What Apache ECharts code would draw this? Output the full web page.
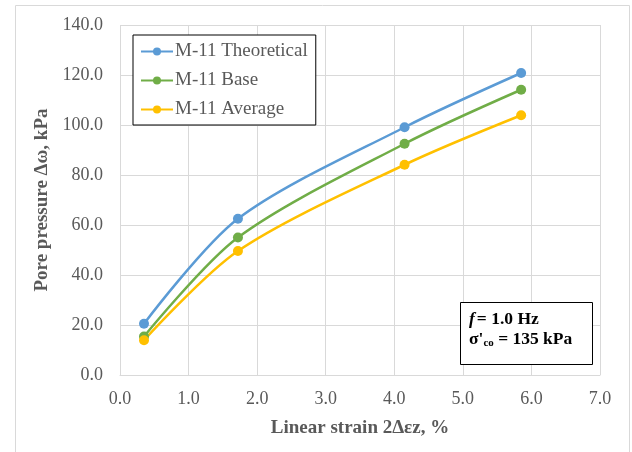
<!DOCTYPE html>
<html>
<head>
<meta charset="utf-8">
<script src="https://cdn.jsdelivr.net/npm/echarts@6/dist/echarts.min.js"></script>
<style>
  html, body { margin: 0; padding: 0; background: #fff; }
  #chart { width: 632px; height: 452px; }
</style>
</head>
<body>
<div id="chart"></div>
<script>
// strain values (%) shared by all series
const strain = [0.35, 1.72, 4.15, 5.85]
const theoretical = [20.5, 62.5, 99.1, 120.8]
const base = [15.4, 55.0, 92.5, 114.1]
const average = [13.9, 49.6, 84.1, 103.9]

const seriesNames = ['M-11 Theoretical', 'M-11 Base', 'M-11 Average']
const seriesColors = ['#5b9bd5', '#70ad47', '#ffc000']
const seriesData = [theoretical, base, average]

const font = 'Liberation Serif, Times New Roman, serif'

const chart = echarts.init(document.getElementById('chart'))

const option = {
  animation: false,
  grid: { left: 120, right: 32, top: 25, bottom: 77 },
  legend: {
    left: 133,
    top: 35,
    orient: 'vertical',
    itemWidth: 32,
    itemHeight: 10,
    itemGap: 10,
    padding: [7, 8, 6, 7],
    borderColor: '#000',
    borderWidth: 1,
    backgroundColor: '#fff',
    data: seriesNames,
    textStyle: { fontFamily: font, fontSize: 19, color: '#595959', padding: [0, 0, 0, -3] }
  },
  xAxis: {
    type: 'value',
    min: 0,
    max: 7,
    interval: 1,
    name: 'Linear strain 2Δεz, %',
    nameLocation: 'middle',
    nameGap: 44,
    nameTextStyle: { fontFamily: font, fontSize: 19, fontWeight: 'bold', color: '#595959' },
    axisLine: { show: true, lineStyle: { color: '#d9d9d9' } },
    axisTick: { show: false },
    axisLabel: {
      fontFamily: font, fontSize: 18, color: '#595959', margin: 15,
      formatter: v => v.toFixed(1)
    },
    splitLine: { lineStyle: { color: '#d9d9d9' } }
  },
  yAxis: {
    type: 'value',
    min: 0,
    max: 140,
    interval: 20,
    name: 'Pore pressure Δω, kPa',
    nameLocation: 'middle',
    nameGap: 63,
    nameTextStyle: { fontFamily: font, fontSize: 19, fontWeight: 'bold', color: '#595959' },
    axisLine: { show: false },
    axisTick: { show: false },
    axisLabel: {
      fontFamily: font, fontSize: 18, color: '#595959', margin: 17,
      formatter: v => v.toFixed(1)
    },
    splitLine: { lineStyle: { color: '#d9d9d9' } }
  },
  series: seriesNames.map((name, i) => ({
    name: name,
    type: 'line',
    smooth: 0.3,
    symbol: 'circle',
    symbolSize: 10,
    color: seriesColors[i],
    lineStyle: { width: 2.5, color: seriesColors[i] },
    itemStyle: { color: seriesColors[i] },
    data: strain.map((x, j) => [x, seriesData[i][j]])
  })),
  graphic: [
    {
      type: 'rect',
      shape: { x: 15.5, y: 5.5, width: 614, height: 460 },
      style: { fill: 'none', stroke: '#d9d9d9', lineWidth: 1 },
      silent: true,
      z: -10
    },
    {
      type: 'rect',
      shape: { x: 460.5, y: 302.5, width: 132, height: 62 },
      style: { fill: '#fff', stroke: '#000', lineWidth: 1 },
      z: 10
    },
    {
      type: 'text',
      left: 469,
      top: 310,
      z: 11,
      style: {
        text: '{i|f}{b|= 1.0 Hz}',
        rich: {
          i: { fontFamily: font, fontSize: 17.5, fontWeight: 'bold', fontStyle: 'italic', fill: '#000' },
          b: { fontFamily: font, fontSize: 17.5, fontWeight: 'bold', fill: '#000', padding: [0, 0, 0, 2] }
        }
      }
    },
    {
      type: 'text',
      left: 469,
      top: 330,
      z: 11,
      style: {
        text: '{b|σ\'}{s|co}{b| = 135 kPa}',
        rich: {
          b: { fontFamily: font, fontSize: 17.5, fontWeight: 'bold', fill: '#000' },
          s: { fontFamily: font, fontSize: 11, fontWeight: 'bold', fill: '#000', verticalAlign: 'bottom', padding: [9, 0, 0, 0] }
        }
      }
    }
  ]
}

chart.setOption(option)
</script>
</body>
</html>
